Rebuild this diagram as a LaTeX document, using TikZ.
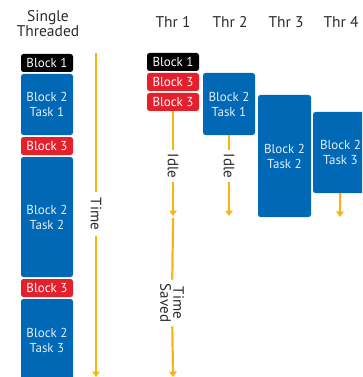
\documentclass[tikz,border=0pt]{standalone}
\usepackage{fontspec}
\setmainfont{PT Sans}
\usetikzlibrary{arrows.meta}
\definecolor{tblue}{HTML}{0068B5}
\definecolor{tred}{HTML}{E3202C}
\definecolor{tline}{HTML}{F7B416}
\definecolor{tlabel}{HTML}{2A2A2A}
\definecolor{ttext}{HTML}{E4EEF8}
\tikzset{
  blk/.style={rounded corners=2.5pt, text=ttext, align=center, inner sep=0pt,
    font=\fontsize{13}{15}\selectfont},
  blue blk/.style={blk, fill=tblue},
  red blk/.style={blk, fill=tred, text=white},
  black blk/.style={blk, fill=black, text=white},
  head/.style={text=tlabel, align=center, font=\fontsize{15.5}{13.5}\selectfont},
  vlabel/.style={rotate=-90, fill=white, text=tlabel, align=center, inner sep=4pt,
    font=\fontsize{15}{13}\selectfont},
  ln/.style={draw=tline, line width=2.2pt},
  arr/.style={ln, -{Triangle[width=7.5pt,length=5.5pt]}},
}
\begin{document}
\begin{tikzpicture}[x=1pt, y=-1pt]
\useasboundingbox (0,0) rectangle (362,377);
\clip (0,0) rectangle (362,377);

% column headers
\node[head] (hs) at (48,24) {Single\\Threaded};
\node[head] (h1) at (173,22) {Thr 1};
\node[head] (h2) at (230,22) {Thr 2};
\node[head] (h3) at (286,22) {Thr 3};
\node[head] (h4) at (341,22) {Thr 4};

% single threaded run
\node[black blk, minimum width=52pt, minimum height=18pt] (s1) at (47,63) {Block 1};
\node[blue blk, minimum width=52pt, minimum height=61pt] (s2) at (47,104.5) {Block 2\\Task 1};
\node[red blk, minimum width=52pt, minimum height=18pt] (s3) at (47,146) {Block 3};
\node[blue blk, minimum width=52pt, minimum height=120pt] (s4) at (47,217) {Block 2\\Task 2};
\node[red blk, minimum width=52pt, minimum height=18pt] (s5) at (47,288) {Block 3};
\node[blue blk, minimum width=52pt, minimum height=82pt] (s6) at (47,340) {Block 2\\Task 3};

% time axis
\coordinate (ts) at (96,53);
\coordinate (te) at (96,377);
\node[vlabel, inner xsep=6pt] (tl) at (96,214) {Time};
\draw[ln] (ts) -- (tl);
\draw[arr] (tl) -- (te);

% thread 1
\node[black blk, minimum width=52pt, minimum height=18pt] (a1) at (173,62) {Block 1};
\node[red blk, minimum width=52pt, minimum height=18pt] (a2) at (173,82) {Block 3};
\node[red blk, minimum width=52pt, minimum height=18pt] (a3) at (173,102) {Block 3};
\coordinate (a4) at (173,216);
\coordinate (a5) at (173,218);
\coordinate (a6) at (173,377);
\node[vlabel] (i1) at (173,166) {Idle};
\node[vlabel, inner xsep=4pt] (sv) at (172,303) {Time\\Saved};
\draw[ln] (a3) -- (i1);
\draw[arr] (i1) -- (a4);
\draw[ln] (a5) -- (sv);
\draw[arr] (sv) -- (a6);

% thread 2
\node[blue blk, minimum width=52pt, minimum height=62pt] (b1) at (229,104) {Block 2\\Task 1};
\coordinate (b2) at (229,216);
\node[vlabel] (i2) at (229,166) {Idle};
\draw[ln] (b1) -- (i2);
\draw[arr] (i2) -- (b2);

% thread 3
\node[blue blk, minimum width=53pt, minimum height=122pt] (c1) at (284.5,156) {Block 2\\Task 2};

% thread 4
\node[blue blk, minimum width=55pt, minimum height=81pt] (d1) at (340.5,152.5) {Block 2\\Task 3};
\coordinate (d2) at (340,217);
\draw[arr] (d1) -- (d2);
\end{tikzpicture}
\end{document}
